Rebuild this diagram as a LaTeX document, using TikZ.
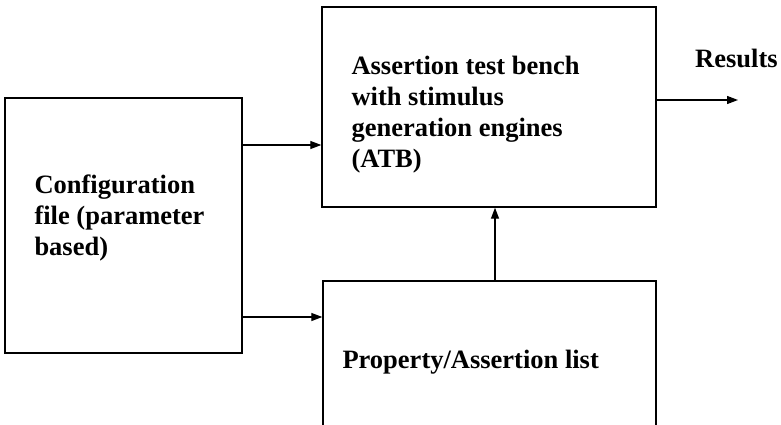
\documentclass[tikz,border=0pt]{standalone}
\usepackage{fontspec}
\setmainfont{Liberation Serif}
\usepackage{tikz}
\usetikzlibrary{arrows.meta,positioning,calc}
\tikzset{
  blockbox/.style={
    rectangle, draw=black, line width=1.4pt,
    inner sep=0pt, minimum width=#1
  },
  blockbox/.default=334pt,
  blocktext/.style={
    font=\fontsize{26.5}{31}\selectfont\bfseries,
    align=left, inner sep=0pt, anchor=west
  },
  flowarrow/.style={
    -{Triangle[length=11pt,width=8pt]}, line width=1.3pt
  },
}

\begin{document}
\begin{tikzpicture}[x=1pt,y=1pt]

\clip (0,0) rectangle (781,424);

% Blocks
\node[blockbox=237pt, minimum height=255pt] (config) at (123.5,198.5) {};
\node[blockbox, minimum height=200pt] (atb) at (489,317) {};
\node[blockbox=333pt, minimum height=159pt] (prop) at (489.5,63.5) {};

% Block texts
\node[blocktext] (configtext) at ([xshift=30pt,yshift=8pt]config.west)
  {Configuration\\file (parameter\\based)};
\node[blocktext] (atbtext) at ([xshift=30pt,yshift=-8pt]atb.west)
  {Assertion test bench\\with stimulus\\generation engines\\(ATB)};
\node[blocktext] (proptext) at ([xshift=20pt,yshift=-1.5pt]prop.west)
  {Property/Assertion list};

% Inputs
\coordinate (in1) at ([yshift=80.5pt]config.east);
\coordinate (in2) at ([yshift=-91.5pt]config.east);
\coordinate (up) at ([xshift=5.5pt]prop.north);
\draw[flowarrow] (in1) -- (in1 -| atb.west);
\draw[flowarrow] (in2) -- (in2 -| prop.west);
\draw[flowarrow] (up) -- (up |- atb.south);

% Output
\coordinate (out) at (738,324);
\draw[flowarrow] (out -| atb.east) -- (out);
\node[blocktext] (results) at (695,366) {Results};

\end{tikzpicture}
\end{document}
